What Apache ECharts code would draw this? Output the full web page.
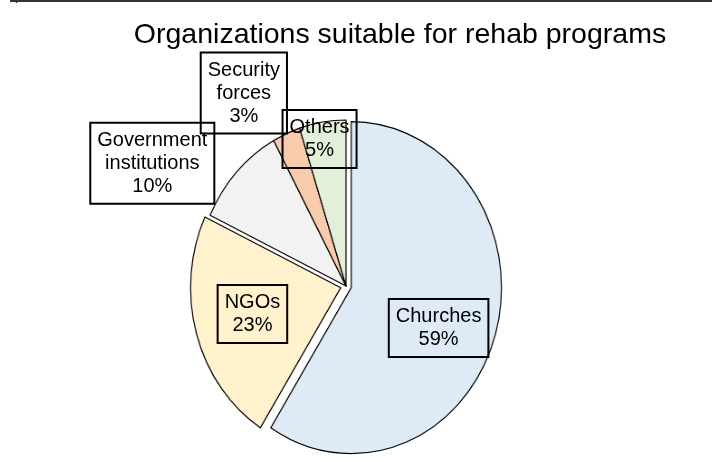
<!DOCTYPE html>
<html>
<head>
<meta charset="utf-8">
<title>Organizations suitable for rehab programs</title>
<script src="https://cdn.jsdelivr.net/npm/echarts/dist/echarts.min.js"></script>
<style>
  html, body { margin: 0; padding: 0; background: #fff; }
  .stage { position: relative; width: 712px; height: 462px; overflow: hidden; }
  .layer { position: absolute; left: 0; top: 0; width: 712px; height: 462px; }
  /* the original pie is a bit narrower than it is tall */
  #pieLayer { transform: scaleX(0.905); transform-origin: 346px 286px; }
</style>
</head>
<body>
<div class="stage">
  <div id="pieLayer" class="layer"></div>
  <div id="textLayer" class="layer"></div>
</div>

<script>
  // data
  const chartTitle = 'Organizations suitable for rehab programs';
  const categories = ['Churches', 'NGOs', 'Government institutions', 'Security forces', 'Others'];
  const shares = [59, 23, 10, 3, 5];
  const exploded = ['Churches', 'NGOs'];

  // styling
  const sliceColors = ['#DEEBF7', '#FFF2CC', '#F2F2F2', '#F8CBAD', '#E2F0D9'];
  // nudge of each label box from its default inside spot
  const labelShift = [[10, 18], [-11, 4], [-131, -64], [-68, -114], [-13, -62]];

  const center = [346, 286];
  const radius = 166;

  function pieData(withStyle) {
    return categories.map((name, i) => {
      let item = { name: name, value: shares[i] };
      if (withStyle) {
        item.itemStyle = { color: sliceColors[i] };
        item.selected = exploded.indexOf(name) >= 0;
      }
      return item;
    });
  }

  // slices
  let pieChart = echarts.init(document.getElementById('pieLayer'), null, { renderer: 'canvas' });
  pieChart.setOption({
    animation: false,
    series: [{
      type: 'pie',
      center: center,
      radius: radius,
      startAngle: 90,
      clockwise: true,
      selectedMode: 'multiple',
      selectedOffset: 6,
      silent: true,
      itemStyle: { borderColor: '#000', borderWidth: 1.2 },
      label: { show: false },
      labelLine: { show: false },
      emphasis: { disabled: true },
      data: pieData(true)
    }]
  });

  // title, frame line and label boxes
  let textChart = echarts.init(document.getElementById('textLayer'), null, { renderer: 'canvas' });
  textChart.setOption({
    animation: false,
    backgroundColor: 'transparent',
    graphic: [
      { type: 'line', shape: { x1: 10, y1: 1, x2: 712, y2: 1 }, style: { stroke: '#333', lineWidth: 2 } },
      { type: 'line', shape: { x1: 16.5, y1: 0, x2: 16.5, y2: 3 }, style: { stroke: '#333', lineWidth: 1.5 } },
      {
        type: 'text', x: 400, y: 35,
        style: {
          text: chartTitle, fill: '#000', align: 'center', verticalAlign: 'middle',
          font: '28.5px "Liberation Sans", Arial, sans-serif'
        }
      }
    ],
    series: [{
      type: 'pie',
      center: center,
      radius: radius,
      startAngle: 90,
      clockwise: true,
      silent: true,
      avoidLabelOverlap: false,
      itemStyle: { color: 'rgba(0,0,0,0)', borderWidth: 0 },
      labelLine: { show: false },
      emphasis: { disabled: true },
      label: {
        show: true,
        position: 'inside',
        formatter: p => p.name.replace(/ /g, '\n') + '\n' + p.percent + '%',
        fontFamily: '"Liberation Sans", Arial, sans-serif',
        fontSize: 20,
        lineHeight: 23,
        color: '#000',
        align: 'center',
        borderColor: '#000',
        borderWidth: 1,
        padding: [6, 7, 6, 7],
        backgroundColor: 'transparent'
      },
      labelLayout: p => ({ dx: labelShift[p.dataIndex][0], dy: labelShift[p.dataIndex][1] }),
      data: pieData(false)
    }]
  });
</script>
</body>
</html>
